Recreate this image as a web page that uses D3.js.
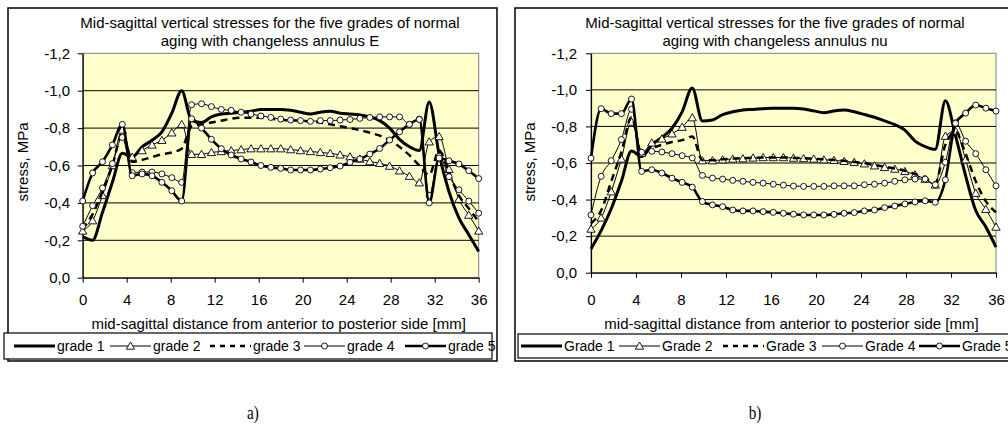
<!DOCTYPE html>
<html><head><meta charset="utf-8">
<script src="https://cdn.jsdelivr.net/npm/d3@7"></script>
<style>
body{margin:0;background:#fff}
svg{display:block}
text{font-family:Arial,"Liberation Sans",sans-serif;fill:#000}
text.panel-label{font-family:"Liberation Serif","DejaVu Serif",serif}
</style>
</head><body>
<svg id="chart" width="1008" height="430"></svg>
<script>
// ---------------- DATA ----------------
const xPositions = [0,0.9,1.8,2.7,3.6,4.5,5.4,6.3,7.2,8.1,9,9.9,10.8,11.7,12.6,13.5,14.4,15.3,16.2,17.1,18,18.9,19.8,20.7,21.6,22.5,23.4,24.3,25.2,26.1,27,27.9,28.8,29.7,30.6,31.5,32.4,33.3,34.2,35.1,36];
const xTicks = [0,4,8,12,16,20,24,28,32,36];
const yTicks = [0,-0.2,-0.4,-0.6,-0.8,-1.0,-1.2];

const titleA = ["Mid-sagittal vertical stresses for the five grades of normal", "aging with changeless annulus E"];
const titleB = ["Mid-sagittal vertical stresses for the five grades of normal", "aging with changeless annulus nu"];
const xAxisTitle = "mid-sagittal distance from anterior to posterior side [mm]";
const yAxisTitle = "stress, MPa";
const legendA = ["grade 1","grade 2","grade 3","grade 4","grade 5"];
const legendB = ["Grade 1","Grade 2","Grade 3","Grade 4","Grade 5"];
const panelLabels = ["a)","b)"];

// a) changeless annulus E
const eGrade1 = [-0.22,-0.20,-0.35,-0.51,-0.665,-0.645,-0.70,-0.735,-0.78,-0.88,-1.00,-0.84,-0.83,-0.86,-0.875,-0.88,-0.885,-0.89,-0.90,-0.90,-0.90,-0.895,-0.885,-0.875,-0.885,-0.89,-0.88,-0.875,-0.87,-0.86,-0.84,-0.80,-0.74,-0.70,-0.68,-0.94,-0.66,-0.46,-0.32,-0.23,-0.14];
const eGrade2 = [-0.25,-0.305,-0.44,-0.60,-0.79,-0.645,-0.68,-0.71,-0.735,-0.775,-0.82,-0.66,-0.66,-0.67,-0.675,-0.68,-0.685,-0.69,-0.69,-0.69,-0.69,-0.685,-0.68,-0.675,-0.67,-0.665,-0.657,-0.647,-0.635,-0.621,-0.612,-0.597,-0.572,-0.543,-0.508,-0.727,-0.755,-0.58,-0.42,-0.335,-0.25];
const eGrade3 = [-0.26,-0.34,-0.46,-0.60,-0.77,-0.62,-0.63,-0.645,-0.66,-0.67,-0.69,-0.81,-0.82,-0.83,-0.84,-0.85,-0.855,-0.855,-0.855,-0.85,-0.845,-0.84,-0.84,-0.835,-0.83,-0.82,-0.81,-0.80,-0.79,-0.775,-0.76,-0.735,-0.70,-0.655,-0.60,-0.55,-0.68,-0.56,-0.44,-0.37,-0.30];
const eGrade4 = [-0.275,-0.385,-0.48,-0.61,-0.75,-0.562,-0.565,-0.565,-0.555,-0.535,-0.51,-0.925,-0.93,-0.915,-0.90,-0.895,-0.885,-0.875,-0.865,-0.857,-0.848,-0.843,-0.84,-0.836,-0.84,-0.84,-0.843,-0.846,-0.852,-0.857,-0.86,-0.86,-0.86,-0.82,-0.848,-0.44,-0.65,-0.54,-0.47,-0.41,-0.345];
const eGrade5 = [-0.41,-0.56,-0.62,-0.71,-0.82,-0.545,-0.555,-0.545,-0.51,-0.465,-0.41,-0.85,-0.80,-0.74,-0.69,-0.656,-0.635,-0.619,-0.60,-0.59,-0.585,-0.576,-0.576,-0.576,-0.581,-0.588,-0.597,-0.617,-0.635,-0.661,-0.691,-0.736,-0.78,-0.82,-0.846,-0.40,-0.64,-0.625,-0.608,-0.572,-0.53];

// b) changeless annulus nu
const nuGrade1 = [-0.13,-0.23,-0.35,-0.50,-0.665,-0.635,-0.70,-0.74,-0.79,-0.88,-1.01,-0.83,-0.835,-0.865,-0.88,-0.89,-0.893,-0.897,-0.90,-0.90,-0.90,-0.895,-0.885,-0.875,-0.885,-0.89,-0.88,-0.865,-0.85,-0.83,-0.81,-0.78,-0.72,-0.69,-0.675,-0.94,-0.75,-0.53,-0.34,-0.25,-0.14];
const nuGrade2 = [-0.239,-0.30,-0.443,-0.622,-0.824,-0.655,-0.71,-0.732,-0.76,-0.796,-0.848,-0.613,-0.613,-0.618,-0.622,-0.624,-0.628,-0.63,-0.63,-0.63,-0.627,-0.625,-0.622,-0.618,-0.615,-0.609,-0.604,-0.596,-0.585,-0.576,-0.567,-0.554,-0.536,-0.512,-0.48,-0.747,-0.774,-0.618,-0.435,-0.347,-0.25];
const nuGrade3 = [-0.27,-0.34,-0.50,-0.66,-0.85,-0.65,-0.68,-0.70,-0.715,-0.725,-0.745,-0.615,-0.615,-0.62,-0.624,-0.626,-0.628,-0.63,-0.63,-0.63,-0.628,-0.626,-0.623,-0.62,-0.616,-0.612,-0.606,-0.60,-0.59,-0.58,-0.57,-0.558,-0.54,-0.52,-0.49,-0.70,-0.77,-0.65,-0.50,-0.39,-0.33];
const nuGrade4 = [-0.316,-0.527,-0.613,-0.728,-0.894,-0.659,-0.664,-0.66,-0.651,-0.64,-0.628,-0.532,-0.517,-0.512,-0.505,-0.50,-0.494,-0.49,-0.484,-0.479,-0.474,-0.472,-0.472,-0.472,-0.475,-0.475,-0.475,-0.481,-0.484,-0.49,-0.50,-0.508,-0.512,-0.512,-0.481,-0.604,-0.82,-0.719,-0.651,-0.563,-0.475];
const nuGrade5 = [-0.626,-0.897,-0.87,-0.87,-0.95,-0.554,-0.563,-0.545,-0.517,-0.494,-0.468,-0.389,-0.371,-0.361,-0.343,-0.338,-0.338,-0.334,-0.33,-0.325,-0.32,-0.316,-0.316,-0.316,-0.319,-0.325,-0.329,-0.338,-0.343,-0.356,-0.365,-0.376,-0.387,-0.393,-0.385,-0.508,-0.817,-0.873,-0.917,-0.90,-0.884];

// ---------------- STYLES / LAYOUT ----------------
const seriesStyles = [
  {width:3,   dash:null,  marker:null},
  {width:1,   dash:null,  marker:"triangle"},
  {width:2.5, dash:"7,5", marker:null},
  {width:1,   dash:null,  marker:"circle"},
  {width:2.6, dash:null,  marker:"circle"}
];

const panels = [
  {
    frame:{x:8,y:8,w:489,h:353},
    plot:{left:82.7,right:478.7,top:53.3,bottom:277.7},
    titleX:270, yLabelX:28, yTickX:70,
    legendBox:{x:4,y:333,w:488,h:26},
    legendTextX:[57,153,253,347,448],
    title:titleA, legend:legendA,
    series:[eGrade1,eGrade2,eGrade3,eGrade4,eGrade5],
    label:panelLabels[0], labelX:253
  },
  {
    frame:{x:515,y:8,w:520,h:353},
    plot:{left:591,right:996,top:53.3,bottom:272.7},
    titleX:775, yLabelX:535, yTickX:577,
    legendBox:{x:518,y:334,w:520,h:24},
    legendTextX:[564,662,766,865,962],
    title:titleB, legend:legendB,
    series:[nuGrade1,nuGrade2,nuGrade3,nuGrade4,nuGrade5],
    label:panelLabels[1], labelX:755
  }
];

const svg = d3.select("#chart");
const commaFmt = v => d3.format(".1f")(v).replace(".", ",").replace("−","-");

function drawMarker(g, type, cx, cy){
  if(type === "circle"){
    g.append("circle").attr("cx",cx).attr("cy",cy).attr("r",3)
      .attr("fill","#fff").attr("stroke","#000").attr("stroke-width",0.9);
  } else if(type === "triangle"){
    g.append("path").attr("d", d3.symbol(d3.symbolTriangle, 30)())
      .attr("transform",`translate(${cx},${cy+0.8})`)
      .attr("fill","#fff").attr("stroke","#000").attr("stroke-width",0.9);
  }
}

panels.forEach(p => {
  const g = svg.append("g");
  // chart frame
  g.append("rect").attr("x",p.frame.x).attr("y",p.frame.y)
    .attr("width",p.frame.w).attr("height",p.frame.h)
    .attr("fill","#fff").attr("stroke","#000").attr("stroke-width",1.5);

  const x = d3.scaleLinear().domain([0,36]).range([p.plot.left,p.plot.right]);
  const y = d3.scaleLinear().domain([0,-1.2]).range([p.plot.bottom,p.plot.top]);

  // plot area
  g.append("rect").attr("x",p.plot.left).attr("y",p.plot.top)
    .attr("width",p.plot.right-p.plot.left).attr("height",p.plot.bottom-p.plot.top)
    .attr("fill","#FFFFCC").attr("stroke","#808080").attr("stroke-width",1);

  // gridlines
  g.append("g").selectAll("line").data(yTicks.filter(t => t < 0 && t > -1.15)).join("line")
    .attr("x1",p.plot.left).attr("x2",p.plot.right)
    .attr("y1",d=>y(d)).attr("y2",d=>y(d))
    .attr("stroke","#000").attr("stroke-width",1);

  // axes
  const yAxis = d3.axisLeft(y).tickValues(yTicks).tickFormat(commaFmt).tickSize(5).tickSizeOuter(0);
  const ya = g.append("g").attr("transform",`translate(${p.plot.left},0)`).call(yAxis);
  ya.select(".domain").attr("stroke","#000").attr("stroke-width",1.2);
  ya.selectAll(".tick line").attr("stroke","#000");
  ya.selectAll(".tick text").attr("x", p.yTickX - p.plot.left).attr("font-size",15)
    .attr("font-family","Arial, 'Liberation Sans', sans-serif").attr("fill","#000");

  const xAxis = d3.axisBottom(x).tickValues(xTicks).tickFormat(d=>String(d)).tickSize(5).tickSizeOuter(0);
  const xa = g.append("g").attr("transform",`translate(0,${p.plot.bottom})`).call(xAxis);
  xa.select(".domain").attr("stroke","#000").attr("stroke-width",1.2);
  xa.selectAll(".tick line").attr("stroke","#000");
  xa.selectAll(".tick text").attr("y", 300 - p.plot.bottom).attr("dy","0.35em").attr("font-size",15)
    .attr("font-family","Arial, 'Liberation Sans', sans-serif").attr("fill","#000");

  // series lines
  const line = d3.line().x(d=>x(d[0])).y(d=>y(d[1])).curve(d3.curveMonotoneX);
  p.series.forEach((vals, si) => {
    const st = seriesStyles[si];
    const pts = xPositions.map((xv,i)=>[xv, vals[i]]);
    g.append("path").datum(pts).attr("d",line)
      .attr("fill","none").attr("stroke","#000").attr("stroke-width",st.width)
      .attr("stroke-linejoin","round")
      .attr("stroke-dasharray", st.dash);
    if(st.marker){
      const mg = g.append("g");
      pts.forEach(d => drawMarker(mg, st.marker, x(d[0]), y(d[1])));
    }
  });

  // title
  const tt = g.append("text").attr("x",p.titleX).attr("text-anchor","middle").attr("font-size",15);
  tt.append("tspan").attr("x",p.titleX).attr("y",28).text(p.title[0]);
  tt.append("tspan").attr("x",p.titleX).attr("y",45.5).text(p.title[1]);

  // axis titles
  g.append("text").attr("x",(p.plot.left+p.plot.right)/2 - 2).attr("y",324).attr("dy","0.35em")
    .attr("text-anchor","middle").attr("font-size",15).text(xAxisTitle);
  g.append("text").attr("transform",`translate(${p.yLabelX},162) rotate(-90)`)
    .attr("text-anchor","middle").attr("font-size",15).text(yAxisTitle);

  // legend
  const lb = p.legendBox;
  g.append("rect").attr("x",lb.x).attr("y",lb.y).attr("width",lb.w).attr("height",lb.h)
    .attr("fill","#fff").attr("stroke","#000").attr("stroke-width",1.2);
  const ly = lb.y + lb.h/2;
  p.legend.forEach((name, i) => {
    const st = seriesStyles[i];
    const tx = p.legendTextX[i];
    g.append("line").attr("x1",tx-43).attr("x2",tx-2).attr("y1",ly).attr("y2",ly)
      .attr("stroke","#000").attr("stroke-width",st.width)
      .attr("stroke-dasharray", st.dash ? "5,5" : null);
    if(st.marker) drawMarker(g, st.marker, tx-22.5, ly);
    g.append("text").attr("x",tx).attr("y",ly).attr("dy","0.35em").attr("font-size",14).text(name);
  });

  // panel label (serif, slightly condensed like the reference)
  svg.append("text").attr("class","panel-label")
    .attr("transform",`translate(${p.labelX},419) scale(0.8,1)`)
    .attr("text-anchor","middle").attr("font-size",19).text(p.label);
});
</script>
</body></html>
